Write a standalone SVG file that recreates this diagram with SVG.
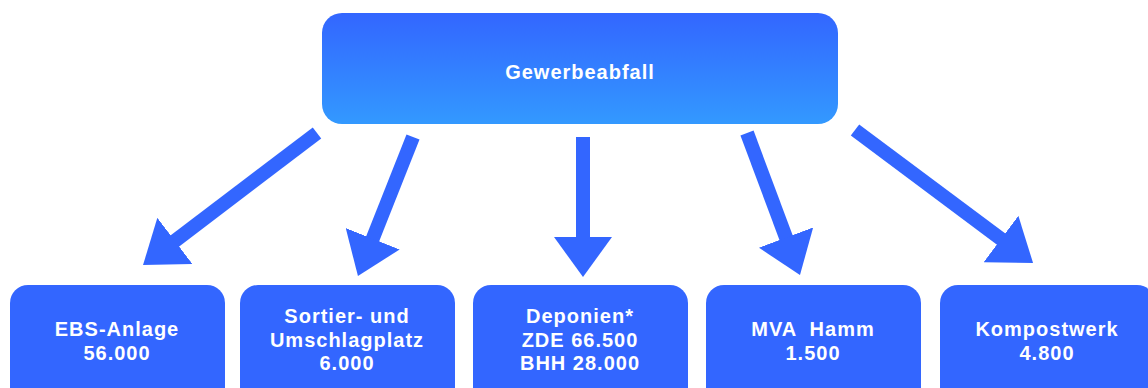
<svg xmlns="http://www.w3.org/2000/svg" width="1148" height="388" viewBox="0 0 1148 388">
<defs>
<linearGradient id="topGrad" x1="0" y1="0" x2="0" y2="1">
<stop offset="0" stop-color="#3366ff"/>
<stop offset="1" stop-color="#3399ff"/>
</linearGradient>
<marker id="head" markerUnits="userSpaceOnUse" viewBox="0 0 40 58" refX="4" refY="29" markerWidth="40" markerHeight="58" orient="auto">
<path d="M0,0 L40,29 L0,58 Z" fill="#3366ff"/>
</marker>
<style>
.box{fill:#3366ff}
.lbl{font-family:"Liberation Sans",Arial,sans-serif;font-weight:bold;font-size:20px;fill:#ffffff;text-anchor:middle;letter-spacing:1px}
.arrow{stroke:#3366ff;stroke-width:14;fill:none;marker-end:url(#head)}
</style>
</defs>
<rect width="1148" height="388" fill="#ffffff"/>
<g id="connectors">
<line class="arrow" x1="317" y1="133" x2="171.7" y2="243.3"/>
<line class="arrow" x1="413" y1="137" x2="371.2" y2="242.5"/>
<line class="arrow" x1="583" y1="137" x2="583" y2="241"/>
<line class="arrow" x1="747" y1="133" x2="787.4" y2="241.3"/>
<line class="arrow" x1="855" y1="130" x2="1004.2" y2="241.4"/>
</g>
<g id="gewerbeabfall">
<rect x="322" y="13" width="516" height="111" rx="20" fill="url(#topGrad)"/>
<text class="lbl" x="580" y="79">Gewerbeabfall</text>
</g>
<g id="ebs">
<rect class="box" x="10" y="285" width="215" height="130" rx="18"/>
<text class="lbl" x="117" y="336">EBS-Anlage</text>
<text class="lbl" x="117" y="360">56.000</text>
</g>
<g id="sortier">
<rect class="box" x="240" y="285" width="215" height="130" rx="18"/>
<text class="lbl" x="347" y="323">Sortier- und</text>
<text class="lbl" x="347" y="347">Umschlagplatz</text>
<text class="lbl" x="347" y="370">6.000</text>
</g>
<g id="deponien">
<rect class="box" x="473" y="285" width="215" height="130" rx="18"/>
<text class="lbl" x="580" y="323">Deponien*</text>
<text class="lbl" x="580" y="347">ZDE 66.500</text>
<text class="lbl" x="580" y="370">BHH 28.000</text>
</g>
<g id="mva">
<rect class="box" x="706" y="285" width="215" height="130" rx="18"/>
<text class="lbl" x="813" y="336" xml:space="preserve">MVA  Hamm</text>
<text class="lbl" x="813" y="360">1.500</text>
</g>
<g id="kompost">
<rect class="box" x="940" y="285" width="215" height="130" rx="18"/>
<text class="lbl" x="1047" y="336">Kompostwerk</text>
<text class="lbl" x="1047" y="360">4.800</text>
</g>
</svg>
